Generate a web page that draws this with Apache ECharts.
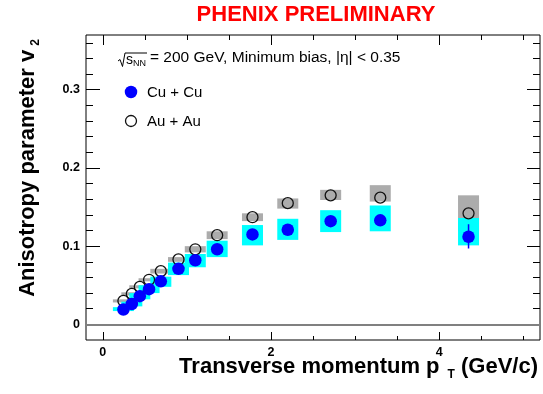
<!DOCTYPE html>
<html><head><meta charset="utf-8">
<script src="https://cdn.jsdelivr.net/npm/echarts@6/dist/echarts.min.js"></script>
<style>html,body{margin:0;padding:0;background:#fff}#c{width:543px;height:394px}</style>
</head><body><div id="c"></div>
<script>
// ---- data ----
const pT      = [0.245, 0.345, 0.44, 0.55, 0.69, 0.90, 1.10, 1.36, 1.78, 2.20, 2.71, 3.30, 4.35];
const cuV2    = [0.019, 0.026, 0.036, 0.045, 0.055, 0.071, 0.082, 0.096, 0.115, 0.121, 0.132, 0.133, 0.112];
const cuSysLo = [0.017, 0.023, 0.032, 0.040, 0.048, 0.063, 0.073, 0.086, 0.101, 0.108, 0.118, 0.119, 0.101];
const cuSysHi = [0.022, 0.029, 0.040, 0.050, 0.061, 0.079, 0.090, 0.107, 0.127, 0.135, 0.146, 0.152, 0.136];
const cuStatLo= [0.018, 0.025, 0.035, 0.044, 0.054, 0.070, 0.081, 0.094, 0.112, 0.117, 0.127, 0.127, 0.097];
const cuStatHi= [0.020, 0.027, 0.037, 0.046, 0.056, 0.072, 0.083, 0.098, 0.118, 0.125, 0.137, 0.139, 0.128];
const auV2    = [0.030, 0.039, 0.048, 0.057, 0.068, 0.083, 0.096, 0.114, 0.137, 0.155, 0.165, 0.162, 0.142];
const auSysLo = [0.028, 0.037, 0.046, 0.055, 0.065, 0.080, 0.092, 0.109, 0.132, 0.148, 0.159, 0.157, 0.119];
const auSysHi = [0.032, 0.041, 0.050, 0.059, 0.071, 0.086, 0.100, 0.119, 0.142, 0.161, 0.172, 0.178, 0.165];
const xMajorTicks = [0, 2, 4];
const xMinorTicks = [0.5, 1, 1.5, 2.5, 3, 3.5, 4.5, 5];
const yMajorTicks = [0, 0.1, 0.2, 0.3];
const yMinorTicks = [0.02, 0.04, 0.06, 0.08, 0.12, 0.14, 0.16, 0.18, 0.22, 0.24, 0.26, 0.28, 0.32, 0.34, 0.36];

// ---- style constants ----
const BOX_HALF = 0.125;
const FONT = 'Liberation Sans, Arial, Helvetica, sans-serif';
const X_MIN = -0.2, X_MAX = 5.2, Y_MIN = -0.02, Y_MAX = 0.37;

const chart = echarts.init(document.getElementById('c'), null, {renderer: 'canvas'});

function xAx(pos, ticks, len, labels) {
  return {
    type: 'value', position: pos, min: X_MIN, max: X_MAX,
    axisLine: {show: false, onZero: false},
    splitLine: {show: false},
    axisTick: {show: true, inside: true, length: len, customValues: ticks, lineStyle: {color: '#000', width: 1}},
    axisLabel: labels ? {show: true, customValues: ticks, margin: 6, color: '#000', fontFamily: FONT, fontWeight: 'bold', fontSize: 12.5, formatter: v => String(v)} : {show: false}
  };
}
function yAx(pos, ticks, len, labels) {
  return {
    type: 'value', position: pos, min: Y_MIN, max: Y_MAX,
    axisLine: {show: false, onZero: false},
    splitLine: {show: false},
    axisTick: {show: true, inside: true, length: len, customValues: ticks, lineStyle: {color: '#000', width: 1}},
    axisLabel: labels ? {show: true, customValues: ticks, margin: 6, color: '#000', fontFamily: FONT, fontWeight: 'bold', fontSize: 12.5, formatter: v => v === 0 ? '0' : v.toFixed(1)} : {show: false}
  };
}

function boxSeries(lo, hi, color, z) {
  return {
    type: 'custom', xAxisIndex: 0, yAxisIndex: 0, z: z, silent: true,
    data: pT.map((x, i) => [x, lo[i], hi[i]]),
    encode: {x: 0, y: [1, 2]},
    renderItem: (params, api) => {
      const x = api.value(0), l = api.value(1), h = api.value(2);
      const p1 = api.coord([x - BOX_HALF, h]);
      const p2 = api.coord([x + BOX_HALF, l]);
      return {type: 'rect', shape: {x: p1[0], y: p1[1], width: p2[0] - p1[0], height: p2[1] - p1[1]}, style: {fill: color}};
    }
  };
}

const option = {
  animation: false,
  grid: {left: 86, top: 35, width: 454, height: 305, show: true, borderColor: '#000', borderWidth: 1, backgroundColor: 'transparent', outerBoundsMode: 'none', containLabel: false},
  xAxis: [
    xAx('bottom', xMajorTicks, 8, true),
    xAx('bottom', xMinorTicks, 4, false),
    xAx('top', xMajorTicks, 10, false),
    xAx('top', xMinorTicks, 5, false)
  ],
  yAxis: [
    yAx('left', yMajorTicks, 14, true),
    yAx('left', yMinorTicks, 7, false),
    yAx('right', yMajorTicks, 13, false),
    yAx('right', yMinorTicks, 7, false)
  ],
  series: [
    Object.assign(boxSeries(auSysLo, auSysHi, '#acacac', 1), {
      markLine: {silent: true, symbol: 'none', label: {show: false},
        lineStyle: {color: '#808080', width: 2, type: 'solid'},
        data: [{yAxis: 0}]}
    }),
    boxSeries(cuSysLo, cuSysHi, '#00ffff', 2),
    {
      type: 'custom', xAxisIndex: 0, yAxisIndex: 0, z: 3, silent: true,
      data: pT.map((x, i) => [x, cuStatLo[i], cuStatHi[i]]),
      encode: {x: 0, y: [1, 2]},
      renderItem: (params, api) => {
        const a = api.coord([api.value(0), api.value(1)]);
        const b = api.coord([api.value(0), api.value(2)]);
        return {type: 'line', shape: {x1: a[0], y1: a[1], x2: b[0], y2: b[1]}, style: {stroke: '#0000ff', lineWidth: 1.5}};
      }
    },
    {
      type: 'scatter', xAxisIndex: 0, yAxisIndex: 0, z: 4, silent: true,
      data: pT.map((x, i) => [x, auV2[i]]),
      symbol: 'circle', symbolSize: 11,
      itemStyle: {color: 'rgba(0,0,0,0)', borderColor: '#111', borderWidth: 1.3, opacity: 1},
      emphasis: {disabled: true}
    },
    {
      type: 'scatter', xAxisIndex: 0, yAxisIndex: 0, z: 5, silent: true,
      data: pT.map((x, i) => [x, cuV2[i]]),
      symbol: 'circle', symbolSize: 12.5,
      itemStyle: {color: '#0000ff', opacity: 1},
      emphasis: {disabled: true}
    }
  ],
  graphic: [
    {type: 'text', x: 316, y: 15, style: {text: 'PHENIX PRELIMINARY', fill: '#ff0000', font: 'bold 22px ' + FONT, align: 'center', verticalAlign: 'middle'}},
    {type: 'text', x: 28, y: 168, rotation: Math.PI / 2,
      style: {text: '{a|Anisotropy parameter v}{s|2}', align: 'center', verticalAlign: 'middle',
        rich: {a: {font: 'bold 22px ' + FONT, fill: '#000', lineHeight: 28},
               s: {font: 'bold 12px ' + FONT, fill: '#000', lineHeight: 12, verticalAlign: 'bottom', padding: [0, 0, 0, 4]}}}},
    {type: 'text', x: 538, y: 367,
      style: {text: '{a|Transverse momentum p}{s|T}{a| (GeV/c)}', align: 'right', verticalAlign: 'middle',
        rich: {a: {font: 'bold 22px ' + FONT, fill: '#000', lineHeight: 28},
               s: {font: 'bold 12px ' + FONT, fill: '#000', lineHeight: 12, verticalAlign: 'bottom', padding: [0, 0, 0, 8]}}}},
    // legend block
    {type: 'polyline', shape: {points: [[118, 61], [120, 59.5], [122.5, 66.5], [125, 53], [147, 53]]}, style: {stroke: '#000', lineWidth: 1, fill: null}},
    {type: 'text', x: 126, y: 60, style: {text: 's', font: '14px ' + FONT, fill: '#000', verticalAlign: 'middle'}},
    {type: 'text', x: 133, y: 64, style: {text: 'NN', font: '9px ' + FONT, fill: '#000', verticalAlign: 'middle'}},
    {type: 'text', x: 150, y: 58, style: {text: '= 200 GeV, Minimum bias, |\u03b7| < 0.35', font: '15.5px ' + FONT, fill: '#000', verticalAlign: 'middle'}},
    {type: 'circle', shape: {cx: 131, cy: 92, r: 6.25}, style: {fill: '#0000ff'}},
    {type: 'text', x: 147, y: 93, style: {text: 'Cu + Cu', font: '15px ' + FONT, fill: '#000', verticalAlign: 'middle'}},
    {type: 'circle', shape: {cx: 131, cy: 121, r: 5.5}, style: {fill: 'none', stroke: '#111', lineWidth: 1.3}},
    {type: 'text', x: 147, y: 122, style: {text: 'Au + Au', font: '15px ' + FONT, fill: '#000', verticalAlign: 'middle'}}
  ]
};
chart.setOption(option);
</script>
</body></html>
